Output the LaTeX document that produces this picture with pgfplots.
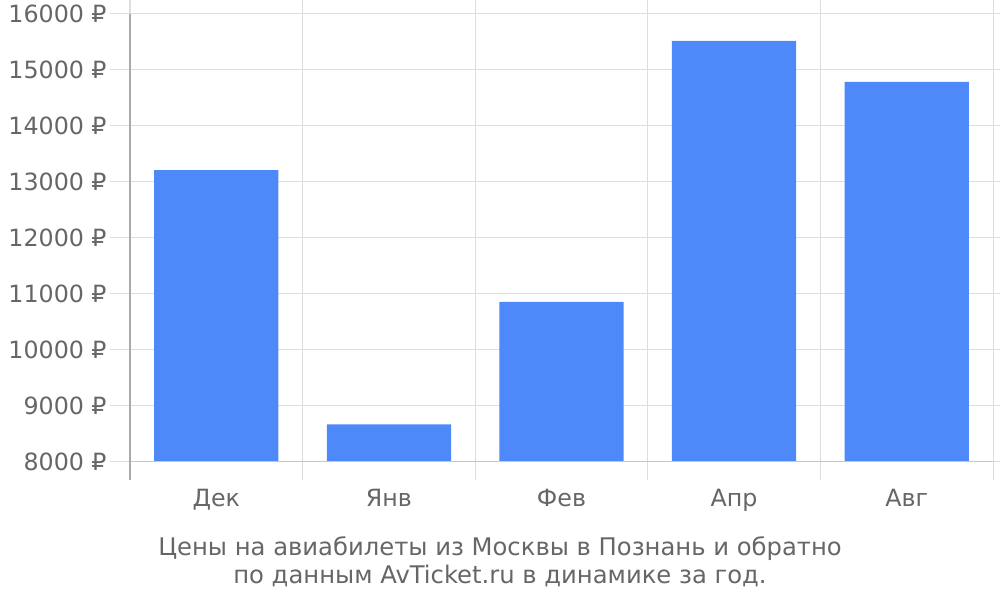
\documentclass[border=0pt]{standalone}
\usepackage{pgfplots}
\pgfplotsset{compat=1.18}
\usepackage{fontspec}
\setmainfont{DejaVu Sans}
\definecolor{barblue}{HTML}{4D89F9}
\definecolor{txt}{HTML}{666666}
\definecolor{gridc}{HTML}{DDDDDD}
\definecolor{axc}{HTML}{AAAAAA}
\begin{document}
\begin{tikzpicture}
\path[use as bounding box] (0pt,0pt) rectangle (750pt,450pt);
\begin{axis}[
  at={(97.5pt,103.5pt)}, anchor=origin,
  scale only axis, width=647.25pt, height=336pt,
  xmin=0, xmax=5, ymin=8000, ymax=16000,
  ytick={8000,9000,...,16000},
  scaled y ticks=false,
  yticklabel={\pgfmathprintnumber[fixed,1000 sep={}]{\tick}~₽},
  xtick={0.5,1.5,2.5,3.5,4.5},
  xticklabels={Дек,Янв,Фев,Апр,Авг},
  minor xtick={0,1,2,3,4,5},
  xminorgrids, ymajorgrids,
  grid style={gridc, line width=0.75pt},
  minor grid style={gridc, line width=0.75pt},
  tick style={gridc, line width=0.75pt},
  major x tick style={draw=none},
  tick align=outside,
  major tick length=15pt,
  minor tick length=13.5pt,
  axis line style={draw=none},
  /pgf/number format/assume math mode=true,
  tick label style={font=\fontsize{17.8}{21}\selectfont, text=txt},
  yticklabel style={xshift=1pt},
  xticklabel style={yshift=-2pt},
  clip=false,
]
\addplot[ybar, bar width=0.72, fill=barblue, draw=none, bar shift=0pt] coordinates {
  (0.5,13210) (1.5,8670) (2.5,10860) (3.5,15520) (4.5,14790)
};
\draw[gridc!90!black, line width=0.75pt] (axis cs:0,8000) -- (axis cs:5,8000);
\draw[gridc, line width=0.75pt] (axis cs:5,8000) -- (axis cs:5,16000);
\draw[axc, line width=0.75pt] (axis cs:0,16000) -- (axis cs:0,8000) -- ++(0pt,-13.5pt);
\end{axis}
\node[align=center, text=txt, font=\fontsize{18.2}{21}\selectfont] at (375pt,28.5pt) {Цены на авиабилеты из Москвы в Познань и обратно\\по данным AvTicket.ru в динамике за год.};
\end{tikzpicture}
\end{document}
